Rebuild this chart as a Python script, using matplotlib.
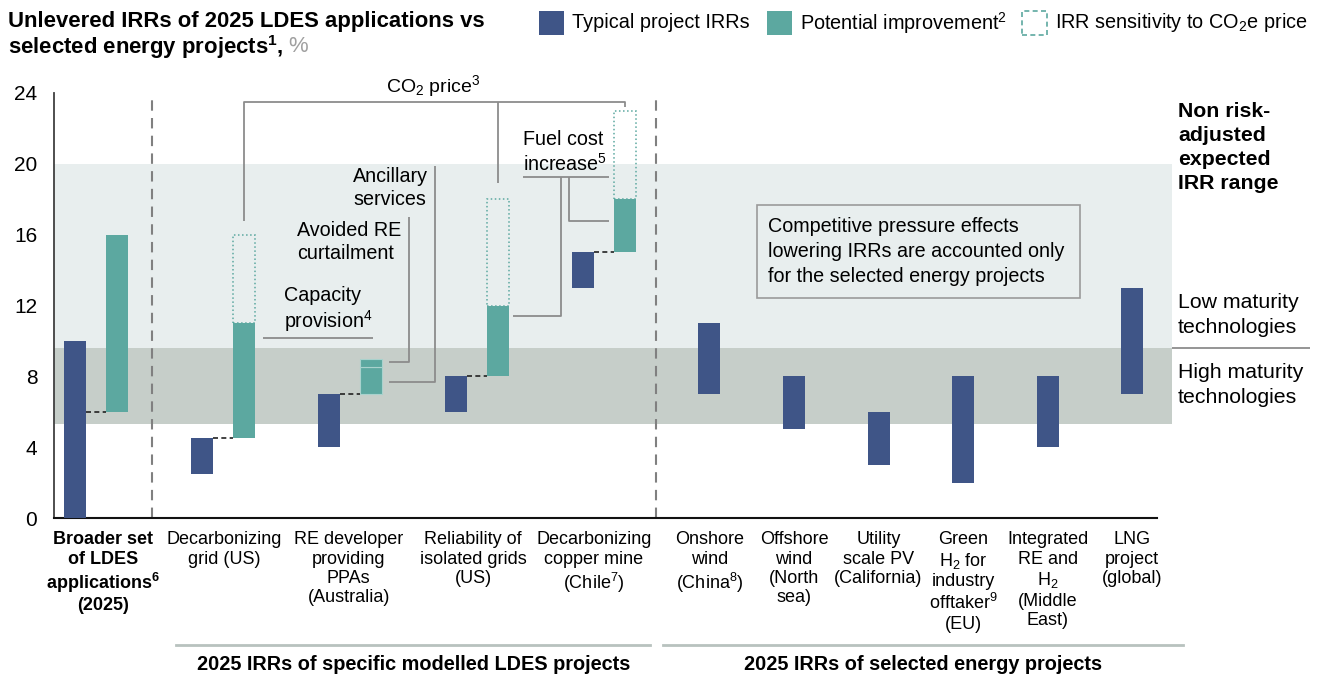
import matplotlib
matplotlib.use("Agg")
import matplotlib.pyplot as plt
from matplotlib.patches import Rectangle

plt.rcParams['font.family'] = ['Liberation Sans', 'DejaVu Sans']
plt.rcParams['mathtext.fontset'] = 'custom'
plt.rcParams['mathtext.rm'] = 'Liberation Sans'
plt.rcParams['mathtext.it'] = 'Liberation Sans:italic'
plt.rcParams['mathtext.bf'] = 'Liberation Sans:bold'

# project IRR ranges, %
categories = [
    "Broader set\nof LDES\napplications$^{\\mathbf{6}}$\n(2025)",
    "Decarbonizing\ngrid (US)",
    "RE developer\nproviding\nPPAs\n(Australia)",
    "Reliability of\nisolated grids\n(US)",
    "Decarbonizing\ncopper mine\n(Chile$^7$)",
    "Onshore\nwind\n(China$^8$)",
    "Offshore\nwind\n(North\nsea)",
    "Utility\nscale PV\n(California)",
    "Green\nH$_2$ for\nindustry\nofftaker$^9$\n(EU)",
    "Integrated\nRE and\nH$_2$\n(Middle\nEast)",
    "LNG\nproject\n(global)",
]
typical_low = [0, 2.5, 4, 6, 13, 7, 5, 3, 2, 4, 7]
typical_high = [10, 4.5, 7, 8, 15, 11, 8, 6, 8, 8, 13]

# potential improvement for the LDES cases (first five categories)
improve_low = [6, 4.5, 7, 8, 15]
improve_high = [16, 11, 9, 12, 18]
re_split = 8.5  # ancillary services / avoided curtailment boundary

# CO2e price sensitivity on top of the improvement
co2_cats = [1, 3, 4]
co2_low = [11, 12, 18]
co2_high = [16, 18, 23]

low_band = (9.6, 20)
high_band = (5.3, 9.6)

BLUE = '#3F5587'
TEAL = '#5CA8A0'
LEAD = '#8C8C8C'

xpos = [0, 3, 6, 9, 12, 15, 17, 19, 21, 23, 25]
label_x = [0.65, 3.52, 6.47, 9.41, 12.27, 15, 17, 19, 21, 23, 25]
W = 0.52

fig = plt.figure(figsize=(13.28, 6.75), dpi=100)
ax = fig.add_axes([54 / 1328, 157 / 675, 1118 / 1328, 425 / 675])
ax.set_xlim(-0.5, 25.94)
ax.set_ylim(0, 24)

ax.axhspan(*low_band, color='#E8EEEE', zorder=0, lw=0)
ax.axhspan(*high_band, color='#C6CEC9', zorder=0, lw=0)

# typical IRR ranges
for i, (lo, hi) in enumerate(zip(typical_low, typical_high)):
    ax.bar(xpos[i], hi - lo, bottom=lo, width=W, color=BLUE, zorder=3)

# potential improvement + connectors
for i, (lo, hi) in enumerate(zip(improve_low, improve_high)):
    x = xpos[i] + 1
    if i == 2:
        ax.bar(x, re_split - lo, bottom=lo, width=W, color=TEAL, zorder=3,
               edgecolor='#A9D2CD', lw=0.8)
        ax.bar(x, hi - re_split, bottom=re_split, width=W, color=TEAL, zorder=3,
               edgecolor='#A9D2CD', lw=0.8)
    else:
        ax.bar(x, hi - lo, bottom=lo, width=W, color=TEAL, zorder=3)
    ax.plot([xpos[i] + W / 2, x - W / 2], [lo, lo], color='#222222', lw=1.2,
            ls=(0, (3, 2)), zorder=4)

for c, lo, hi in zip(co2_cats, co2_low, co2_high):
    x = xpos[c] + 1
    ax.add_patch(Rectangle((x - W / 2, lo), W, hi - lo, fill=False,
                           edgecolor=TEAL, ls=':', lw=1.1, zorder=3))

# section separators
for sx in (1.81, 13.73):
    ax.plot([sx, sx], [0, 24], color='#808080', lw=1.5, ls=(0, (5, 3.5)), zorder=2)

# leader lines
def lead(xs, ys):
    ax.plot(xs, ys, color=LEAD, lw=1.3, zorder=2, clip_on=False,
            solid_capstyle='butt')

lead([4, 4, 13, 13], [16.8, 23.5, 23.5, 23.2])
lead([10, 10], [23.5, 18.9])
ax.text(8.46, 24.4, "CO$_2$ price$^3$", fontsize=14, ha='center', va='center')

lead([8.51, 8.51, 7.43], [19.9, 7.66, 7.66])
ax.text(6.57, 18.63, "Ancillary\nservices", fontsize=14.2, ha='left', va='center',
        linespacing=1.3)
lead([7.9, 7.9, 7.43], [16.98, 8.79, 8.79])
ax.text(5.24, 15.58, "Avoided RE\ncurtailment", fontsize=14.2, ha='left',
        va='center', linespacing=1.3)
lead([4.45, 7.05], [10.16, 10.16])
ax.text(4.95, 11.75, "Capacity\nprovision$^4$", fontsize=14.2, ha='left',
        va='center', linespacing=1.2)

lead([10.58, 12.62], [19.27, 19.27])
lead([11.5, 11.5, 10.36], [19.27, 11.4, 11.4])
lead([11.69, 11.69, 12.62], [19.27, 16.79, 16.79])
ax.text(10.58, 20.65, "Fuel cost\nincrease$^5$", fontsize=14.2, ha='left',
        va='center', linespacing=1.2)

# note box
ax.add_patch(Rectangle((16.12, 12.4), 7.64, 5.3, fill=False, edgecolor='#9A9A9A',
                       lw=1.2, zorder=2))
ax.text(16.38, 15.05, "Competitive pressure effects\nlowering IRRs are accounted only\n"
        "for the selected energy projects", fontsize=14.2, ha='left', va='center',
        linespacing=1.37)

# band labels on the right
ax.text(26.08, 20.92, "Non risk-\nadjusted\nexpected\nIRR range", fontsize=15.3,
        fontweight='bold', ha='left', va='center', linespacing=1.33)
ax.text(26.08, 11.46, "Low maturity\ntechnologies", fontsize=15.3, ha='left',
        va='center', linespacing=1.38)
ax.text(26.08, 7.51, "High maturity\ntechnologies", fontsize=15.3, ha='left',
        va='center', linespacing=1.38)
lead([25.94, 29.2], [9.6, 9.6])

# axes styling
for s in ('top', 'right'):
    ax.spines[s].set_visible(False)
ax.spines['left'].set_color('#404040')
ax.spines['left'].set_linewidth(1.3)
ax.spines['bottom'].set_color('#111111')
ax.spines['bottom'].set_linewidth(1.5)
ax.spines['bottom'].set_bounds(-0.5, 25.58)
ax.set_yticks(range(0, 25, 4))
ax.tick_params(axis='y', length=0, labelsize=15, pad=12)
ax.set_xticks([])

for lx, lab in zip(label_x, categories):
    ax.text(lx, -0.75, lab, fontsize=13, ha='center', va='top', linespacing=1.18,
            fontweight='bold' if lx < 1 else 'normal')

# group brackets below the labels
def gx(x):
    return ax.transData.transform((x, 0))[0] / 1328

for x0, x1, name in ((2.39, 13.6, "2025 IRRs of specific modelled LDES projects"),
                     (13.9, 26.2, "2025 IRRs of selected energy projects")):
    fig.add_artist(plt.Line2D([gx(x0), gx(x1)], [1 - 645 / 675] * 2,
                              color='#B8C2BE', lw=2))
    fig.text((gx(x0) + gx(x1)) / 2, 1 - 664 / 675, name, fontsize=14.3,
             fontweight='bold', ha='center', va='center')

# title
fig.text(8 / 1328, 1 - 22 / 675, "Unlevered IRRs of 2025 LDES applications vs",
         fontsize=15.9, fontweight='bold', va='center')
t2 = fig.text(8 / 1328, 1 - 47 / 675,
              "selected energy projects$^{\\mathbf{1}}$,", fontsize=15.9,
              fontweight='bold', va='center')
fig.canvas.draw()
bb = t2.get_window_extent()
fig.text((bb.x1 + 5) / 1328, 1 - 47 / 675, "%", fontsize=15.9, color='#A0A0A0',
         va='center')

# legend
def legend_item(px, label, **kw):
    fig.add_artist(Rectangle((px / 1328, 1 - 35 / 675), 25 / 1328, 24 / 675,
                             transform=fig.transFigure, **kw))
    fig.text((px + 33) / 1328, 1 - 23 / 675, label, fontsize=14.3, va='center')

legend_item(539, "Typical project IRRs", color=BLUE, lw=0)
legend_item(767, "Potential improvement$^2$", color=TEAL, lw=0)
legend_item(1022, "IRR sensitivity to CO$_2$e price", fill=False, edgecolor=TEAL,
            ls=(0, (3, 2)), lw=1.2)

fig.savefig("out.png", dpi=100)
